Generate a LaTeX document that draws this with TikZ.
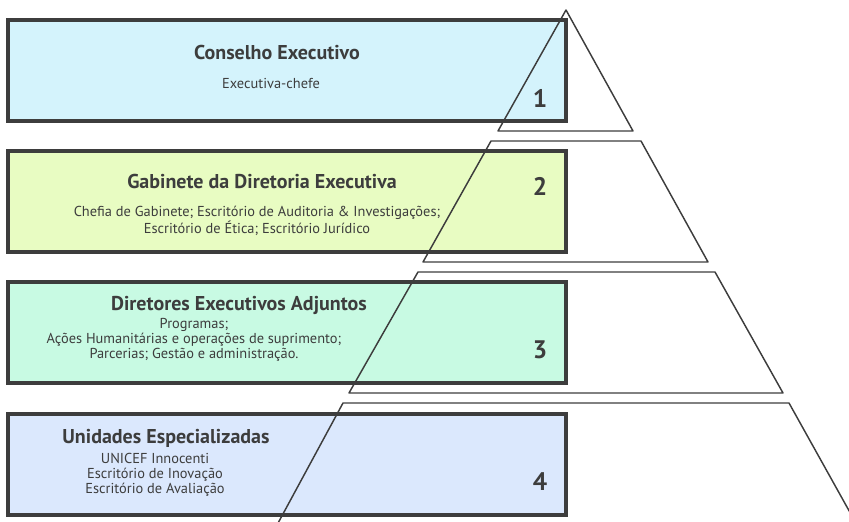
\documentclass[tikz,border=0pt]{standalone}
\usepackage{fontspec}
\setmainfont{PT Sans}
\usepackage{xcolor}

\definecolor{inkgray}{HTML}{3D3D3D}
\definecolor{boxblue}{HTML}{D4F3FC}
\definecolor{boxlime}{HTML}{E8FCC2}
\definecolor{boxmint}{HTML}{C8FAE3}
\definecolor{boxsky}{HTML}{DBE8FD}

\tikzset{
  tierbox/.style={draw=inkgray, line width=2.4pt},
  tierline/.style={draw=inkgray, line width=1.1pt, line join=round},
  tiertitle/.style={text=inkgray, font=\fontsize{15}{17}\selectfont\bfseries},
  tiertext/.style={text=inkgray, align=center, font=\fontsize{10.8}{11.4}\selectfont},
  tiernum/.style={text=inkgray, font=\fontsize{19}{19}\selectfont\bfseries}
}

\begin{document}
\begin{tikzpicture}[x=0.75pt, y=-0.75pt]
  \useasboundingbox (0,0) rectangle (849,521);

  % the four boxes
  \filldraw[tierbox, fill=boxblue] (8,20) rectangle (566,121);
  \filldraw[tierbox, fill=boxlime] (8,151) rectangle (566,252);
  \filldraw[tierbox, fill=boxmint] (8,282) rectangle (566,383);
  \filldraw[tierbox, fill=boxsky] (8,414) rectangle (566,515);

  % the pyramid, cut in four
  \draw[tierline] (566,10) -- (633,131) -- (498,131) -- cycle;
  \draw[tierline] (491,141) -- (641,141) -- (708,262) -- (423,262) -- cycle;
  \draw[tierline] (418,272) -- (715,272) -- (783,393) -- (349,393) -- cycle;
  \draw[tierline] (277,525) -- (343,403) -- (789,403) -- (857,525);

  % level 1
  \node[tiertitle] (t1) at (277,52) {Conselho Executivo};
  \node[tiertext] (d1) at (271,83) {Executiva-chefe};
  \node[tiernum] (n1) at (540,98) {1};

  % level 2
  \node[tiertitle] (t2) at (262,181) {Gabinete da Diretoria Executiva};
  \node[tiertext] (d2) at (257,221) {Chefia de Gabinete; Escritório de Auditoria \& Investigações;\\Escritório de Ética; Escritório Jurídico};
  \node[tiernum] (n2) at (540,186) {2};

  % level 3
  \node[tiertitle] (t3) at (239,305) {Diretores Executivos Adjuntos};
  \node[tiertext] (d3) at (194,340) {Programas;\\Ações Humanitárias e operações de suprimento;\\Parcerias; Gestão e administração.};
  \node[tiernum] (n3) at (540,350) {3};

  % level 4
  \node[tiertitle] (t4) at (166,438) {Unidades Especializadas};
  \node[tiertext] (d4) at (155,475) {UNICEF Innocenti\\Escritório de Inovação\\Escritório de Avaliação};
  \node[tiernum] (n4) at (540,482) {4};
\end{tikzpicture}
\end{document}
